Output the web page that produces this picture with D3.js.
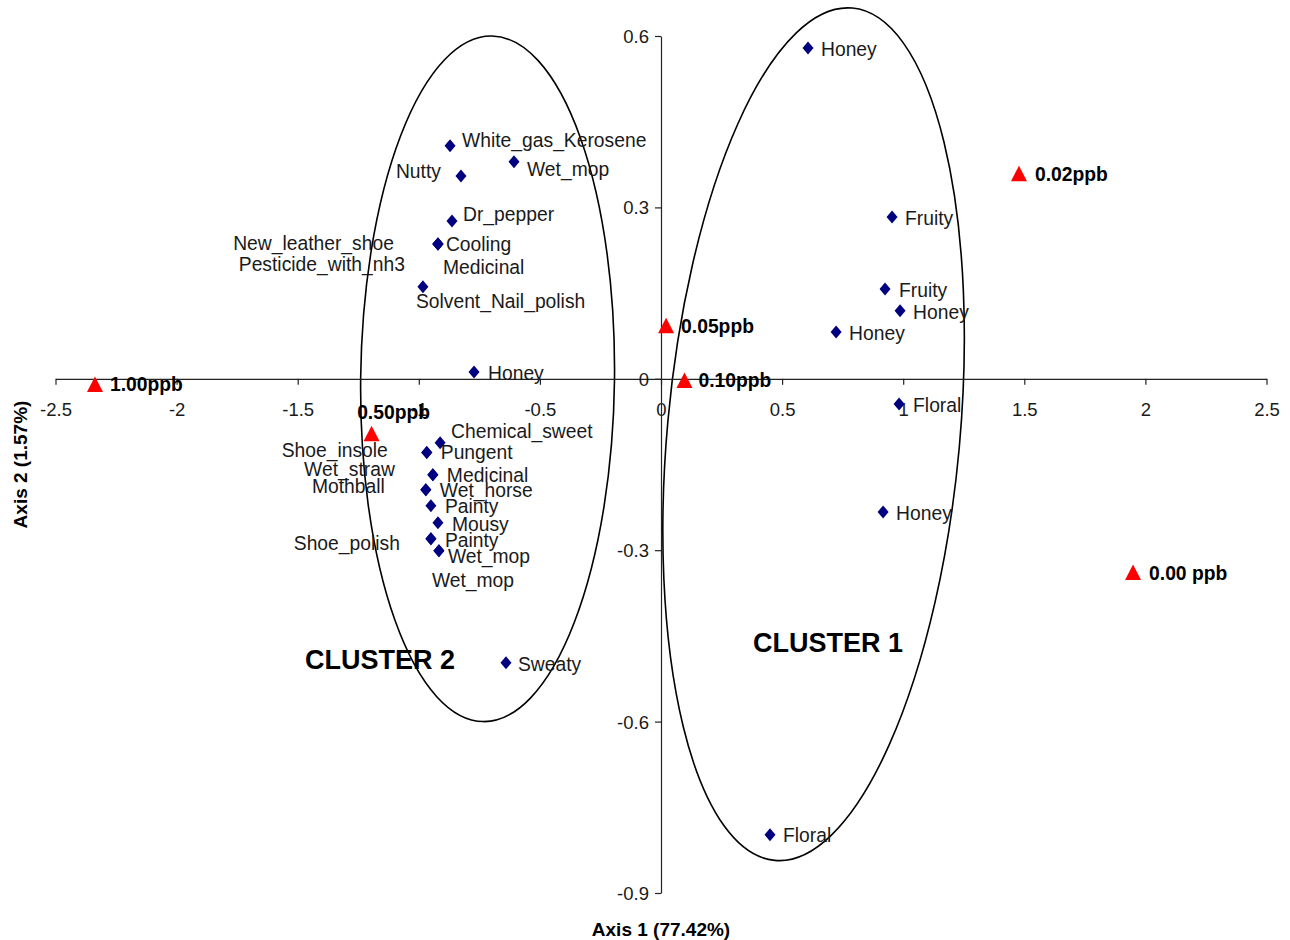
<!DOCTYPE html>
<html>
<head>
<meta charset="utf-8">
<script src="https://cdn.jsdelivr.net/npm/d3@7"></script>
<style>
  html, body { margin: 0; padding: 0; background: #fff; }
  svg { display: block; font-family: "Liberation Sans", Arial, sans-serif; }
</style>
</head>
<body>
<svg id="chart" width="1290" height="940"></svg>
<script>
// ---------------- DATA ----------------
const xTicks = [-2.5, -2, -1.5, -1, -0.5, 0, 0.5, 1, 1.5, 2, 2.5];
const yTicks = [0.6, 0.3, 0, -0.3, -0.6, -0.9];

// Attribute points (diamonds)
const attrNames = [
  "Honey", "Fruity", "Fruity", "Honey", "Honey", "Floral", "Honey", "Floral",
  "White_gas_Kerosene", "Wet_mop", "Nutty", "Dr_pepper",
  "Cooling", "Medicinal", "New_leather_shoe", "Pesticide_with_nh3",
  "Solvent_Nail_polish", "Honey", "Chemical_sweet",
  "Pungent", "Shoe_insole", "Medicinal", "Wet_straw", "Wet_horse", "Mothball",
  "Painty", "Mousy", "Painty", "Shoe_polish", "Wet_mop", "Wet_mop", "Sweaty"
];
const attrX = [
  0.607, 0.954, 0.925, 0.987, 0.723, 0.983, 0.917, 0.450,
  -0.871, -0.607, -0.826, -0.863,
  -0.921, -0.921, -0.921, -0.921,
  -0.983, -0.772, -0.912,
  -0.967, -0.967, -0.942, -0.942, -0.971, -0.971,
  -0.950, -0.921, -0.950, -0.950, -0.917, -0.917, -0.640
];
const attrY = [
  0.579, 0.283, 0.157, 0.119, 0.082, -0.044, -0.233, -0.798,
  0.408, 0.380, 0.355, 0.276,
  0.236, 0.236, 0.236, 0.236,
  0.161, 0.012, -0.112,
  -0.129, -0.129, -0.168, -0.168, -0.194, -0.194,
  -0.222, -0.252, -0.280, -0.280, -0.301, -0.301, -0.497
];

// Concentration points (triangles)
const concNames = ["1.00ppb", "0.50ppb", "0.05ppb", "0.10ppb", "0.02ppb", "0.00 ppb"];
const concX = [-2.337, -1.195, 0.021, 0.097, 1.478, 1.949];
const concY = [-0.010, -0.096, 0.093, -0.003, 0.359, -0.339];

// Clusters (ellipse centre / semi-axes in data units, tilt in degrees)
const clusterNames = ["CLUSTER 1", "CLUSTER 2"];
const clusterCx = [0.630, -0.716];
const clusterCy = [-0.097, 0.000];
const clusterRx = [0.604, 0.524];
const clusterRy = [0.749, 0.600];
const clusterTilt = [5.2, 0.7];
const clusterLabelX = [0.690, -1.160];
const clusterLabelY = [-0.462, -0.492];

const axisXTitle = "Axis 1 (77.42%)";
const axisYTitle = "Axis 2 (1.57%)";

// ---------------- LAYOUT (label offsets, px) ----------------
const attrLabelPos = [
  [13, 1, "start"], [13, 1, "start"], [14, 1, "start"], [13, 1, "start"], [13, 1, "start"], [14, 1, "start"], [13, 1, "start"], [13, 1, "start"],
  [12, -5, "start"], [13, 8, "start"], [-20, -5, "end"], [11, -7, "start"],
  [8, 0, "start"], [5, 23, "start"], [-44, -1, "end"], [-33, 20, "end"],
  [-7, 14, "start"], [14, 1, "start"], [11, -12, "start"],
  [14, 0, "start"], [-39, -2, "end"], [14, 0, "start"], [-38, -6, "end"], [14, 1, "start"], [-41, -3, "end"],
  [14, 1, "start"], [14, 1, "start"], [14, 1, "start"], [-31, 4, "end"], [9, 5, "start"], [-7, 29, "start"], [12, 1, "start"]
];
const concLabelPos = [
  [15, 0, "start"], [22, -21, "middle"], [15, 1, "start"], [14, 0, "start"], [16, 1, "start"], [16, 1, "start"]
];

// ---------------- CHART ----------------
const svg = d3.select("#chart");
const x = d3.scaleLinear().domain([-2.5, 2.5]).range([55.5, 1266.5]);
const y = d3.scaleLinear().domain([-0.9, 0.6]).range([893, 36]);

// Ellipses
const ellG = svg.append("g");
clusterNames.forEach((n, i) => {
  const cx = x(clusterCx[i]), cy = y(clusterCy[i]);
  const rx = Math.abs(x(clusterRx[i]) - x(0));
  const ry = Math.abs(y(clusterRy[i]) - y(0));
  ellG.append("ellipse")
    .attr("cx", 0).attr("cy", 0).attr("rx", rx).attr("ry", ry)
    .attr("transform", `translate(${cx},${cy}) rotate(${clusterTilt[i]})`)
    .attr("fill", "none").attr("stroke", "#000").attr("stroke-width", 1.6);
});

// Axes
const xAxis = d3.axisBottom(x).tickValues(xTicks).tickSize(6).tickSizeOuter(0)
  .tickPadding(18).tickFormat(d => String(d));
const gx = svg.append("g").attr("transform", `translate(0,${y(0)})`).call(xAxis);
const yAxis = d3.axisLeft(y).tickValues(yTicks).tickSize(6).tickSizeOuter(0)
  .tickPadding(6).tickFormat(d => String(d));
const gy = svg.append("g").attr("transform", `translate(${x(0)},0)`).call(yAxis);
[gx, gy].forEach(g => {
  g.select(".domain").attr("stroke", "#222").attr("stroke-width", 1.2);
  g.selectAll(".tick line").attr("stroke", "#222").attr("stroke-width", 1.2);
  g.selectAll(".tick text").attr("font-size", 18.5).attr("fill", "#1a1a1a")
    .attr("font-family", '"Liberation Sans", Arial, sans-serif');
});
gy.selectAll(".tick text").attr("dy", "0.35em");

// Diamonds
const diamond = "M0,-6.5L5.5,0L0,6.5L-5.5,0Z";
const attrData = attrNames.map((n, i) => ({ name: n, x: attrX[i], y: attrY[i], lp: attrLabelPos[i] }));
const dG = svg.append("g");
dG.selectAll("path").data(attrData).join("path")
  .attr("d", diamond)
  .attr("transform", d => `translate(${x(d.x)},${y(d.y)})`)
  .attr("fill", "#000080");

// Triangles
const triangle = "M0,-8L8,7.5L-8,7.5Z";
const concData = concNames.map((n, i) => ({ name: n, x: concX[i], y: concY[i], lp: concLabelPos[i] }));
const tG = svg.append("g");
tG.selectAll("path").data(concData).join("path")
  .attr("d", triangle)
  .attr("transform", d => `translate(${x(d.x)},${y(d.y)})`)
  .attr("fill", "#ff0000");

// Attribute labels
const lG = svg.append("g").attr("font-size", 19.3).attr("fill", "#1a1a1a");
lG.selectAll("text").data(attrData).join("text")
  .attr("x", d => x(d.x) + d.lp[0])
  .attr("y", d => y(d.y) + d.lp[1])
  .attr("dy", "0.35em")
  .attr("text-anchor", d => d.lp[2])
  .text(d => d.name);

// Concentration labels
const cG = svg.append("g").attr("font-size", 19.3).attr("font-weight", "bold").attr("fill", "#000");
cG.selectAll("text").data(concData).join("text")
  .attr("x", d => x(d.x) + d.lp[0])
  .attr("y", d => y(d.y) + d.lp[1])
  .attr("dy", "0.35em")
  .attr("text-anchor", d => d.lp[2])
  .text(d => d.name);

// Cluster labels
svg.append("g").selectAll("text").data(clusterNames).join("text")
  .attr("x", (d, i) => x(clusterLabelX[i]))
  .attr("y", (d, i) => y(clusterLabelY[i]))
  .attr("dy", "0.35em")
  .attr("text-anchor", "middle")
  .attr("font-size", 27).attr("font-weight", "bold").attr("fill", "#000")
  .text(d => d);

// Axis titles
svg.append("text")
  .attr("x", x(0)).attr("y", 929).attr("dy", "0.35em")
  .attr("text-anchor", "middle").attr("font-size", 19).attr("font-weight", "bold")
  .text(axisXTitle);
svg.append("text")
  .attr("transform", `translate(20,${y(-0.15)}) rotate(-90)`)
  .attr("dy", "0.35em")
  .attr("text-anchor", "middle").attr("font-size", 19).attr("font-weight", "bold")
  .text(axisYTitle);
</script>
</body>
</html>
